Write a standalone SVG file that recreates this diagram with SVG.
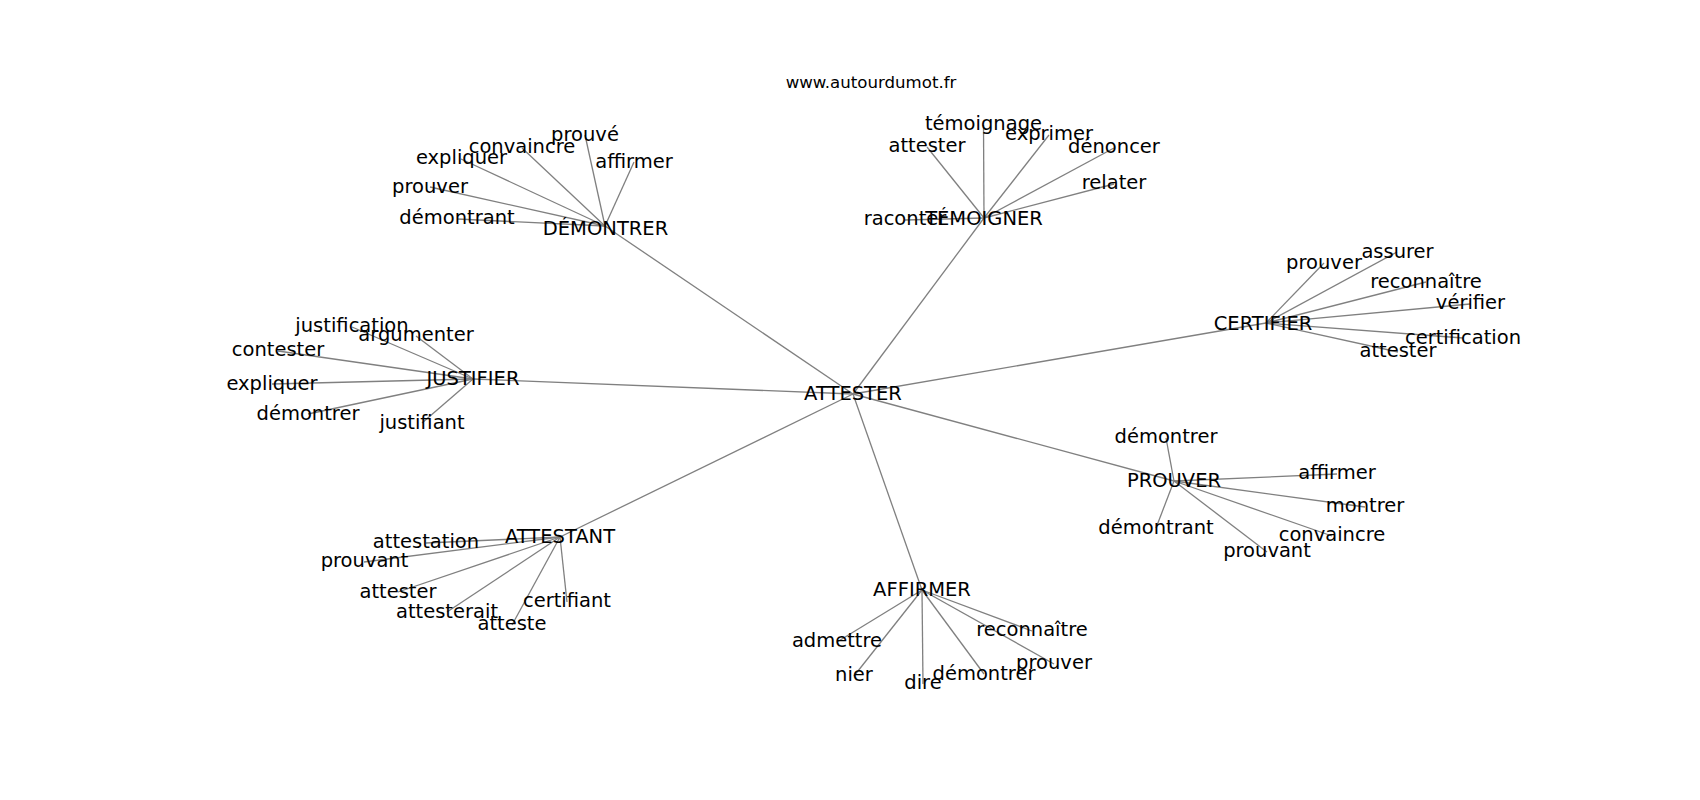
<svg xmlns="http://www.w3.org/2000/svg" width="1700" height="800" viewBox="0 0 1700 800">
<style>
.e{stroke:#808080;stroke-width:1.3;fill:none}
text{font-family:"DejaVu Sans","Liberation Sans",sans-serif;font-size:19.5px;fill:#000;text-anchor:middle}
.hdr{font-size:16.6px}
</style>
<rect width="1700" height="800" fill="#fff"/>
<text class="hdr" x="871" y="88">www.autourdumot.fr</text>
<g id="edges">
<line class="e" x1="853" y1="394" x2="605" y2="226"/>
<line class="e" x1="853" y1="394" x2="984" y2="218"/>
<line class="e" x1="853" y1="394" x2="1266" y2="323"/>
<line class="e" x1="853" y1="394" x2="1174" y2="481"/>
<line class="e" x1="853" y1="394" x2="922" y2="590"/>
<line class="e" x1="853" y1="394" x2="560" y2="537"/>
<line class="e" x1="853" y1="394" x2="473" y2="379"/>
<line class="e" x1="605" y1="226" x2="585" y2="135"/>
<line class="e" x1="605" y1="226" x2="522" y2="148"/>
<line class="e" x1="605" y1="226" x2="461" y2="159"/>
<line class="e" x1="605" y1="226" x2="634" y2="162"/>
<line class="e" x1="605" y1="226" x2="430" y2="187"/>
<line class="e" x1="605" y1="226" x2="457" y2="219"/>
<line class="e" x1="984" y1="218" x2="983.5" y2="125"/>
<line class="e" x1="984" y1="218" x2="927" y2="147"/>
<line class="e" x1="984" y1="218" x2="1049" y2="135"/>
<line class="e" x1="984" y1="218" x2="1114" y2="148"/>
<line class="e" x1="984" y1="218" x2="1114" y2="184"/>
<line class="e" x1="984" y1="218" x2="905" y2="220"/>
<line class="e" x1="1266" y1="323" x2="1324" y2="263"/>
<line class="e" x1="1266" y1="323" x2="1397" y2="252"/>
<line class="e" x1="1266" y1="323" x2="1426" y2="282"/>
<line class="e" x1="1266" y1="323" x2="1470" y2="304"/>
<line class="e" x1="1266" y1="323" x2="1463" y2="338"/>
<line class="e" x1="1266" y1="323" x2="1398" y2="352"/>
<line class="e" x1="1174" y1="481" x2="1166" y2="438"/>
<line class="e" x1="1174" y1="481" x2="1337" y2="474"/>
<line class="e" x1="1174" y1="481" x2="1365" y2="507"/>
<line class="e" x1="1174" y1="481" x2="1156" y2="528"/>
<line class="e" x1="1174" y1="481" x2="1332" y2="536"/>
<line class="e" x1="1174" y1="481" x2="1267" y2="552"/>
<line class="e" x1="473" y1="379" x2="352" y2="327"/>
<line class="e" x1="473" y1="379" x2="416" y2="336"/>
<line class="e" x1="473" y1="379" x2="278" y2="351"/>
<line class="e" x1="473" y1="379" x2="272" y2="384"/>
<line class="e" x1="473" y1="379" x2="308" y2="414"/>
<line class="e" x1="473" y1="379" x2="422" y2="423"/>
<line class="e" x1="560" y1="537" x2="426" y2="543"/>
<line class="e" x1="560" y1="537" x2="364" y2="562"/>
<line class="e" x1="560" y1="537" x2="398" y2="592"/>
<line class="e" x1="560" y1="537" x2="567" y2="602"/>
<line class="e" x1="560" y1="537" x2="447" y2="612"/>
<line class="e" x1="560" y1="537" x2="512" y2="625"/>
<line class="e" x1="922" y1="590" x2="837" y2="642"/>
<line class="e" x1="922" y1="590" x2="854" y2="676"/>
<line class="e" x1="922" y1="590" x2="923" y2="684"/>
<line class="e" x1="922" y1="590" x2="984" y2="674"/>
<line class="e" x1="922" y1="590" x2="1032" y2="631"/>
<line class="e" x1="922" y1="590" x2="1054" y2="664"/>
</g>
<g id="n-attester"><text x="853" y="400">ATTESTER</text></g>
<g id="n-demontrer"><text x="605.5" y="235">DÉMONTRER</text></g>
<g id="n-temoigner"><text x="984" y="225">TÉMOIGNER</text></g>
<g id="n-certifier"><text x="1263" y="329.5">CERTIFIER</text></g>
<g id="n-prouver"><text x="1174" y="486.5">PROUVER</text></g>
<g id="n-affirmer"><text x="922" y="595.5">AFFIRMER</text></g>
<g id="n-attestant"><text x="560" y="543">ATTESTANT</text></g>
<g id="n-justifier"><text x="473" y="384.5">JUSTIFIER</text></g>
<g id="n-d-prouve"><text x="585" y="140.5">prouvé</text></g>
<g id="n-d-convaincre"><text x="522" y="153">convaincre</text></g>
<g id="n-d-expliquer"><text x="461.5" y="164.3">expliquer</text></g>
<g id="n-d-affirmer"><text x="634" y="167.5">affirmer</text></g>
<g id="n-d-prouver"><text x="430" y="192.5">prouver</text></g>
<g id="n-d-demontrant"><text x="457" y="224.3">démontrant</text></g>
<g id="n-t-temoignage"><text x="983.5" y="130.3">témoignage</text></g>
<g id="n-t-attester"><text x="927" y="152">attester</text></g>
<g id="n-t-exprimer"><text x="1049" y="140.3">exprimer</text></g>
<g id="n-t-denoncer"><text x="1114" y="153">dénoncer</text></g>
<g id="n-t-relater"><text x="1114" y="189.3">relater</text></g>
<g id="n-t-raconter"><text x="905" y="225.3">raconter</text></g>
<g id="n-c-prouver"><text x="1324" y="268.6">prouver</text></g>
<g id="n-c-assurer"><text x="1397.5" y="257.6">assurer</text></g>
<g id="n-c-reconnaitre"><text x="1426" y="287.6">reconnaître</text></g>
<g id="n-c-verifier"><text x="1470.5" y="309">vérifier</text></g>
<g id="n-c-certification"><text x="1463" y="343.6">certification</text></g>
<g id="n-c-attester"><text x="1398" y="357">attester</text></g>
<g id="n-p-demontrer"><text x="1166" y="443">démontrer</text></g>
<g id="n-p-affirmer"><text x="1337" y="479.3">affirmer</text></g>
<g id="n-p-montrer"><text x="1365" y="512">montrer</text></g>
<g id="n-p-demontrant"><text x="1156" y="533.6">démontrant</text></g>
<g id="n-p-convaincre"><text x="1332" y="541.3">convaincre</text></g>
<g id="n-p-prouvant"><text x="1267" y="557">prouvant</text></g>
<g id="n-j-justification"><text x="352" y="332">justification</text></g>
<g id="n-j-argumenter"><text x="416" y="341">argumenter</text></g>
<g id="n-j-contester"><text x="278" y="356">contester</text></g>
<g id="n-j-expliquer"><text x="272" y="389.6">expliquer</text></g>
<g id="n-j-demontrer"><text x="308" y="419.6">démontrer</text></g>
<g id="n-j-justifiant"><text x="422" y="428.6">justifiant</text></g>
<g id="n-a-attestation"><text x="426" y="548">attestation</text></g>
<g id="n-a-prouvant"><text x="364.5" y="567">prouvant</text></g>
<g id="n-a-attester"><text x="398" y="597.6">attester</text></g>
<g id="n-a-certifiant"><text x="567" y="607">certifiant</text></g>
<g id="n-a-attesterait"><text x="447" y="617.6">attesterait</text></g>
<g id="n-a-atteste"><text x="512" y="630.3">atteste</text></g>
<g id="n-f-admettre"><text x="837" y="647">admettre</text></g>
<g id="n-f-nier"><text x="854" y="681">nier</text></g>
<g id="n-f-dire"><text x="923" y="689.3">dire</text></g>
<g id="n-f-demontrer"><text x="984" y="679.6">démontrer</text></g>
<g id="n-f-reconnaitre"><text x="1032" y="636.3">reconnaître</text></g>
<g id="n-f-prouver"><text x="1054" y="669.3">prouver</text></g>
</svg>
